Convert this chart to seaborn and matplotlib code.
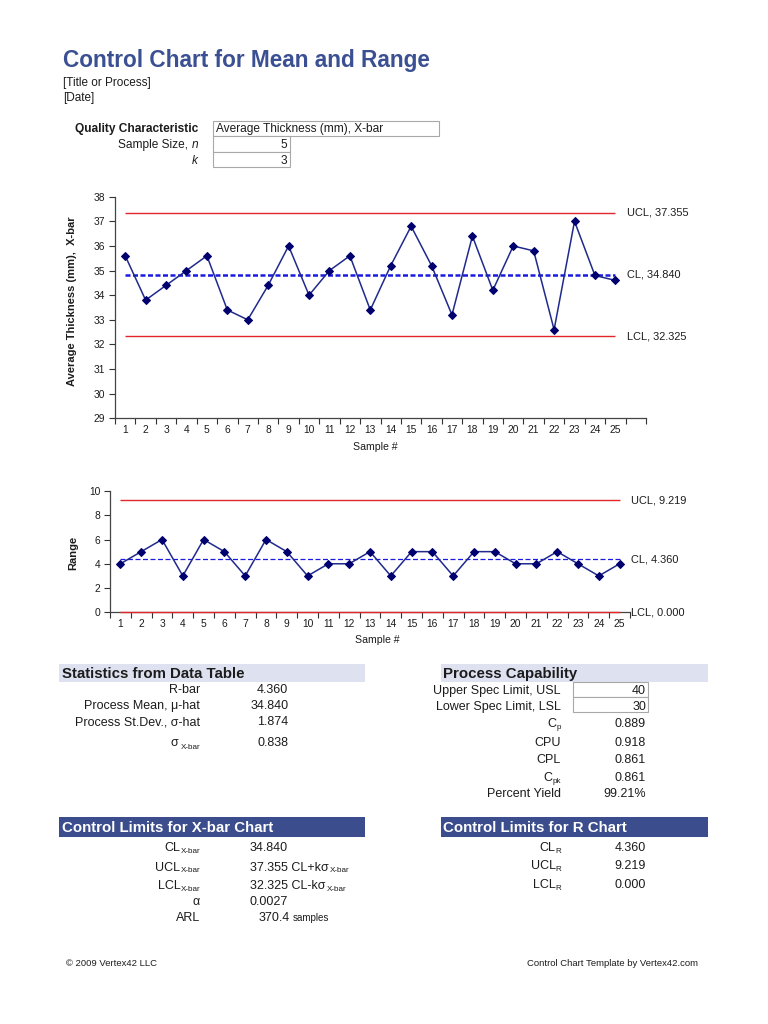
import numpy as np
import pandas as pd
import matplotlib
matplotlib.use("Agg")
import matplotlib.pyplot as plt
import seaborn as sns
from matplotlib.patches import Rectangle

# ---------------- data ----------------
samples = list(range(1, 26))
xbar_values = [35.6, 33.8, 34.4, 35.0, 35.6, 33.4, 33.0, 34.4, 36.0, 34.0,
               35.0, 35.6, 33.4, 35.2, 36.8, 35.2, 33.2, 36.4, 34.2, 36.0,
               35.8, 32.6, 37.0, 34.8, 34.6]
range_values = [4, 5, 6, 3, 6, 5, 3, 6, 5, 3, 4, 4, 5, 3, 5, 5, 3, 5, 5, 4,
                4, 5, 4, 3, 4]
xbar_cl, xbar_ucl, xbar_lcl = 34.840, 37.355, 32.325
r_cl, r_ucl, r_lcl = 4.360, 9.219, 0.000
xbar_yticks = list(range(29, 39))
r_yticks = [0, 2, 4, 6, 8, 10]

stats_labels = ["R-bar", "Process Mean, \u03bc-hat", "Process St.Dev., \u03c3-hat"]
stats_values = ["4.360", "34.840", "1.874", "0.838"]
cap_labels = ["Upper Spec Limit, USL", "Lower Spec Limit, LSL"]
cap_values = ["40", "30", "0.889", "0.918", "0.861", "0.861", "99.21%"]
xlim_values = ["34.840", "37.355", "32.325", "0.0027", "370.4"]
rlim_values = ["4.360", "9.219", "0.000"]

# ---------------- style ----------------
sns.set_theme(style="ticks")
plt.rcParams["font.family"] = ["Liberation Sans", "DejaVu Sans"]
TXT = "#1c1c1c"
NAVY = "#00006E"
LINE = "#1F2A8C"
CLBLUE = "#1A1AE0"
RED = "#E3262B"
TITLE = "#3B5092"
BAND_L = "#DEE1F0"
BAND_D = "#3B4D8C"
FS = 9.0
TICK_FS = 7.4

W, H = 768, 1024
fig = plt.figure(figsize=(W / 100, H / 100), dpi=100)


def axrect(l, t, r, b):
    return [l / W, 1 - b / H, (r - l) / W, (b - t) / H]


def style_axis(ax, yticks, xmax):
    ax.set_ylim(yticks[0], yticks[-1])
    ax.set_yticks(yticks)
    ax.set_xlim(0.5, xmax + 0.5)
    ax.set_xticks(samples)
    ax.set_xticks(np.arange(0.5, xmax + 1.0, 1.0), minor=True)
    ax.tick_params(axis="x", which="major", length=0, pad=5, labelsize=TICK_FS,
                   labelcolor=TXT, bottom=True)
    ax.tick_params(axis="x", which="minor", length=4, width=0.8,
                   direction="out", color="#333333", bottom=True)
    ax.tick_params(axis="y", length=4, width=0.8, direction="out",
                   labelsize=TICK_FS, pad=3, color="#333333", labelcolor=TXT, left=True)
    for s in ["top", "right"]:
        ax.spines[s].set_visible(False)
    for s in ["left", "bottom"]:
        ax.spines[s].set_color("#444444")
        ax.spines[s].set_linewidth(0.9)
    ax.set_facecolor("none")


# ---------------- X-bar chart ----------------
ax1 = fig.add_axes(axrect(115, 196.7, 646, 418.3))
style_axis(ax1, xbar_yticks, 26)
ax1.hlines([xbar_ucl, xbar_lcl], samples[0], samples[-1], colors=RED, lw=1.0, zorder=2)
ax1.hlines(xbar_cl, samples[0], samples[-1], colors=CLBLUE, lw=1.8,
           linestyles=(0, (2.0, 1.0)), zorder=2)
sns.lineplot(x=samples, y=xbar_values, ax=ax1, color=LINE, lw=1.1, marker="D",
             markersize=4.0, markerfacecolor=NAVY, markeredgecolor=NAVY, zorder=4)
for lab, val in [("UCL", xbar_ucl), ("CL", xbar_cl), ("LCL", xbar_lcl)]:
    ax1.annotate(f"{lab}, {val:.3f}", xy=(samples[-1], val), xytext=(8.3, 0),
                 textcoords="offset points", va="center", ha="left",
                 fontsize=7.9, color=TXT, annotation_clip=False)
ax1.set_ylabel("Average Thickness (mm),  X-bar", fontsize=8.0, fontweight="bold",
               color=TXT)
ax1.yaxis.set_label_coords(-0.072, 0.53)
ax1.set_xlabel("Sample #", fontsize=7.6, color=TXT)
ax1.xaxis.set_label_coords(0.49, -0.108)

# ---------------- Range chart ----------------
ax2 = fig.add_axes(axrect(110, 491, 630, 612.3))
style_axis(ax2, r_yticks, 25)
ax2.hlines([r_ucl, r_lcl], samples[0], samples[-1], colors=RED, lw=1.0, zorder=3,
           clip_on=False)
ax2.hlines(r_cl, samples[0], samples[-1], colors=CLBLUE, lw=0.9,
           linestyles=(0, (4, 2)), zorder=2)
sns.lineplot(x=samples, y=range_values, ax=ax2, color=LINE, lw=1.1, marker="D",
             markersize=4.0, markerfacecolor=NAVY, markeredgecolor=NAVY, zorder=4)
for lab, val in [("UCL", r_ucl), ("CL", r_cl), ("LCL", r_lcl)]:
    ax2.annotate(f"{lab}, {val:.3f}", xy=(samples[-1], val), xytext=(8.5, 0),
                 textcoords="offset points", va="center", ha="left",
                 fontsize=7.9, color=TXT, annotation_clip=False)
ax2.set_ylabel("Range", fontsize=8.0, fontweight="bold", color=TXT)
ax2.yaxis.set_label_coords(-0.062, 0.49)
ax2.set_xlabel("Sample #", fontsize=7.6, color=TXT)
ax2.xaxis.set_label_coords(0.515, -0.185)

# ---------------- overlay for page text ----------------
ov = fig.add_axes([0, 0, 1, 1])
ov.set_xlim(0, W)
ov.set_ylim(H, 0)
ov.axis("off")


def base(yc, size):
    return yc + 0.716 * size * 100 / 72 / 2


def T(x, yc, s, size=FS, ha="left", **kw):
    kw.setdefault("color", TXT)
    return ov.text(x, base(yc, size), s, ha=ha, va="baseline", fontsize=size, **kw)


def sub_right(x, yc, main, sub, size=FS, subsize=5.8, dy=1.6, gap=0.0):
    b = base(yc, size)
    ts = ov.text(x, b + dy, sub, ha="right", va="baseline", fontsize=subsize, color=TXT)
    ov.annotate(main, xy=(0, b), xycoords=(ts, "data"), xytext=(-gap, 0),
                textcoords="offset points", ha="right", va="baseline",
                fontsize=size, color=TXT)


def sub_left(x, yc, main, sub, size=FS, subsize=5.8, dy=1.6, gap=0.0):
    b = base(yc, size)
    tm = ov.text(x, b, main, ha="left", va="baseline", fontsize=size, color=TXT)
    ov.annotate(sub, xy=(1, b + dy), xycoords=(tm, "data"), xytext=(gap, 0),
                textcoords="offset points", ha="left", va="baseline",
                fontsize=subsize, color=TXT)


def box(x0, y0, x1, y1):
    ov.add_patch(Rectangle((x0, y0), x1 - x0, y1 - y0, fc="white", ec="#A8A8A8", lw=0.8))


# header
ov.text(63, 66.7, "Control Chart for Mean and Range", fontsize=16.3, fontweight="bold",
        color=TITLE, va="baseline", ha="left")
T(63, 81.7, "[Title or Process]", size=8.5)
T(63, 96.7, "[Date]", size=8.5)

box(212.7, 120.5, 439, 136)
box(212.7, 136, 290, 151.5)
box(212.7, 151.5, 290, 167)
T(198, 128, "Quality Characteristic", size=8.6, ha="right", fontweight="bold")
T(216, 128, "Average Thickness (mm), X-bar", size=8.6)
b_n = base(144, 8.6)
tn = ov.text(198, b_n, "n", style="italic", ha="right", va="baseline", fontsize=8.6, color=TXT)
ov.annotate("Sample Size, ", xy=(0, b_n), xycoords=(tn, "data"), ha="right",
            va="baseline", fontsize=8.6, color=TXT)
T(198, 159.5, "k", size=8.6, ha="right", style="italic")
T(287, 144, "5", size=8.6, ha="right")
T(287, 159.5, "3", size=8.6, ha="right")

# section bands
ov.add_patch(Rectangle((59, 664.3), 306, 18, fc=BAND_L, ec="none"))
ov.add_patch(Rectangle((440.7, 664.3), 267.3, 18, fc=BAND_L, ec="none"))
ov.add_patch(Rectangle((59, 817.3), 306, 20, fc=BAND_D, ec="none"))
ov.add_patch(Rectangle((440.7, 817.3), 267.3, 20, fc=BAND_D, ec="none"))
T(62, 673, "Statistics from Data Table", size=10.8, fontweight="bold")
T(442.7, 673, "Process Capability", size=10.8, fontweight="bold")
T(62, 827, "Control Limits for X-bar Chart", size=10.8, fontweight="bold", color="white")
T(442.7, 827, "Control Limits for R Chart", size=10.8, fontweight="bold", color="white")

# statistics table
stat_y = [689, 705, 720.7, 741.7]
for lab, yc in zip(stats_labels, stat_y[:3]):
    T(200, yc, lab, ha="right")
sub_right(200, stat_y[3], "\u03c3", "X-bar", gap=1.5, dy=2.5)
for val, yc in zip(stats_values, stat_y):
    T(288.3, yc, val, ha="right")

# process capability
cap_y = [689.3, 705.7, 723, 742, 759, 776.7, 793]
box(573, 682, 648, 697)
box(573, 697, 648, 712)
T(560.7, cap_y[0], cap_labels[0], ha="right")
T(560.7, cap_y[1], cap_labels[1], ha="right")
sub_right(560.7, cap_y[2], "C", "p")
T(560.7, cap_y[3], "CPU", ha="right")
T(560.7, cap_y[4], "CPL", ha="right")
sub_right(560.7, cap_y[5], "C", "pk")
T(560.7, cap_y[6], "Percent Yield", ha="right")
for val, yc in zip(cap_values, cap_y):
    T(646, yc, val, ha="right")

# control limits for X-bar
xl_y = [846.7, 866.2, 885, 901, 916.7]
sub_right(200, xl_y[0], "CL", "X-bar")
sub_right(200, xl_y[1], "UCL", "X-bar")
sub_right(200, xl_y[2], "LCL", "X-bar")
T(200, xl_y[3], "\u03b1", ha="right")
T(200, xl_y[4], "ARL", ha="right")
T(250, xl_y[0], xlim_values[0])
sub_left(250, xl_y[1], xlim_values[1] + " CL+k\u03c3", "X-bar", gap=1.0)
sub_left(250, xl_y[2], xlim_values[2] + " CL-k\u03c3", "X-bar", gap=1.0)
T(250, xl_y[3], xlim_values[3])
T(290, xl_y[4], xlim_values[4], ha="right")
T(293, xl_y[4] + 1, "samples", size=7)

# control limits for R
rl_y = [846.5, 865, 883.5]
sub_right(561.5, rl_y[0], "CL", "R")
sub_right(561.5, rl_y[1], "UCL", "R")
sub_right(561.5, rl_y[2], "LCL", "R")
for val, yc in zip(rlim_values, rl_y):
    T(646, yc, val, ha="right")

# footer
T(66, 963, "\u00a9 2009 Vertex42 LLC", size=6.8)
T(698, 963, "Control Chart Template by Vertex42.com", size=6.8, ha="right")

fig.savefig("out.png", dpi=100, facecolor="white")
